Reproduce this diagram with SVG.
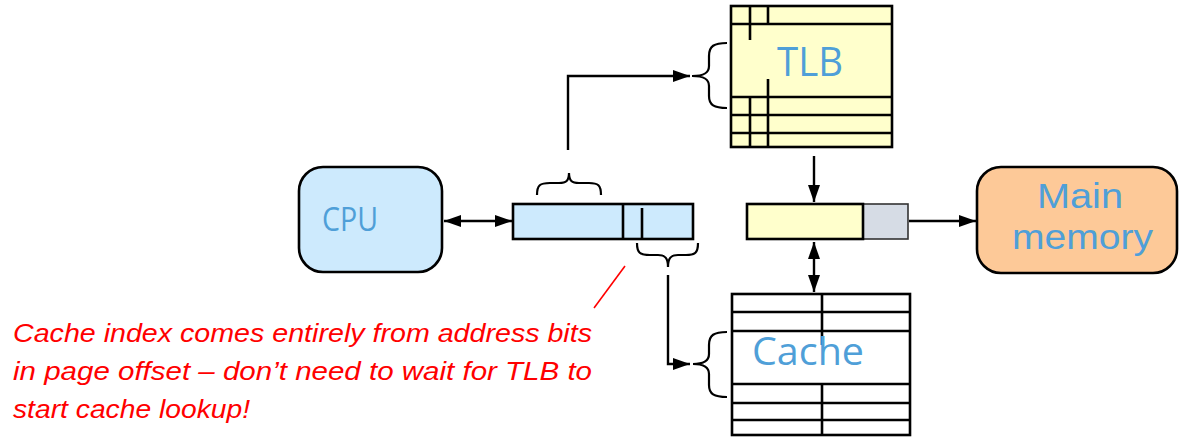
<svg xmlns="http://www.w3.org/2000/svg" width="1180" height="439" viewBox="0 0 1180 439">
  <style>
    .box { stroke: #000; stroke-width: 2.6; }
    .grid { stroke: #000; stroke-width: 2.6; fill: none; }
    .wire { stroke: #000; stroke-width: 2.4; fill: none; }
    .brace { stroke: #000; stroke-width: 2.2; fill: none; }
    .label { font-family: "Open Sans", "Liberation Sans", sans-serif; fill: #4f9fd8; }
    .mem { font-family: "Liberation Sans", Arial, sans-serif; fill: #4f9fd8; font-size: 35px; }
    .note { font-family: "Liberation Sans", Arial, sans-serif; font-style: italic; font-size: 26px; fill: #ff0000; }
  </style>
  <defs>
    <marker id="arrow" markerUnits="userSpaceOnUse" markerWidth="18" markerHeight="12" refX="17" refY="6" orient="auto-start-reverse">
      <path d="M0,0 L17,6 L0,12 z" fill="#000"/>
    </marker>
  </defs>
  <rect width="1180" height="439" fill="#fff"/>

  <!-- connectors -->
  <g id="connectors">
    <line class="wire" x1="444" y1="221" x2="512" y2="221" marker-start="url(#arrow)" marker-end="url(#arrow)"/>
    <polyline class="wire" points="568,150 568,76 690,76" marker-end="url(#arrow)"/>
    <polyline class="wire" points="668,275 668,364 690,364" marker-end="url(#arrow)"/>
    <line class="wire" x1="814" y1="156" x2="814" y2="202" marker-end="url(#arrow)"/>
    <line class="wire" x1="814" y1="242" x2="814" y2="292" marker-start="url(#arrow)" marker-end="url(#arrow)"/>
    <line class="wire" x1="909" y1="221" x2="976" y2="221" marker-end="url(#arrow)"/>
    <line x1="625" y1="266" x2="594" y2="308" stroke="#ff0000" stroke-width="1.6"/>
  </g>

  <!-- processor -->
  <g id="cpu">
    <rect class="box" x="299" y="167" width="143" height="105" rx="24" fill="#cdeafd"/>
    <text class="label" x="322" y="231" font-size="33" textLength="56" lengthAdjust="spacingAndGlyphs">CPU</text>
  </g>

  <!-- virtual address: page number | page offset -->
  <g id="virtual-address">
    <rect class="box" x="513" y="204" width="180" height="35" fill="#cdeafd"/>
    <line class="grid" x1="623" y1="204" x2="623" y2="239"/>
    <line class="grid" x1="642" y1="208" x2="642" y2="239"/>
    <path class="brace" d="M537,195 C537,185 540,183 550,183 L559,183 C566,183 569,181 569,173 C569,181 572,183 579,183 L589,183 C598,183 601,185 601,195"/>
    <path class="brace" d="M637,243 C637,253 640,255 650,255 L658,255 C665,255 668,258 668,267 C668,258 671,255 678,255 L686,255 C695,255 698,253 698,243"/>
  </g>

  <!-- translation lookaside buffer -->
  <g id="tlb">
    <rect class="box" x="731" y="6" width="161" height="141" fill="#ffffcc"/>
    <line class="grid" x1="731" y1="24" x2="892" y2="24"/>
    <line class="grid" x1="731" y1="97" x2="892" y2="97"/>
    <line class="grid" x1="731" y1="115" x2="892" y2="115"/>
    <line class="grid" x1="731" y1="133" x2="892" y2="133"/>
    <line class="grid" x1="750" y1="6" x2="750" y2="40"/>
    <line class="grid" x1="768" y1="6" x2="768" y2="24"/>
    <line class="grid" x1="750" y1="97" x2="750" y2="147"/>
    <line class="grid" x1="768" y1="79" x2="768" y2="147"/>
    <path class="brace" d="M727,43 C714,43 709,46 709,56 L709,66 C709,73 704,76 692,76 C704,76 709,79 709,86 L709,96 C709,105 714,108 727,108"/>
    <text class="label" x="777" y="76" font-size="40" textLength="66" lengthAdjust="spacingAndGlyphs">TLB</text>
  </g>

  <!-- physical address: frame number | offset -->
  <g id="physical-address">
    <rect x="863" y="204" width="45" height="35" fill="#d6dce5" stroke="#333" stroke-width="1.6"/>
    <rect class="box" x="747" y="204" width="116" height="35" fill="#ffffcc"/>
  </g>

  <!-- cache array -->
  <g id="cache">
    <rect class="box" x="732" y="294" width="178" height="141" fill="#fff"/>
    <line class="grid" x1="732" y1="312" x2="910" y2="312"/>
    <line class="grid" x1="732" y1="331" x2="910" y2="331"/>
    <line class="grid" x1="732" y1="384" x2="910" y2="384"/>
    <line class="grid" x1="732" y1="403" x2="910" y2="403"/>
    <line class="grid" x1="732" y1="420" x2="910" y2="420"/>
    <line class="grid" x1="822" y1="294" x2="822" y2="345"/>
    <line class="grid" x1="822" y1="384" x2="822" y2="435"/>
    <path class="brace" d="M727,332 C714,332 709,335 709,345 L709,354 C709,361 704,364 693,364 C704,364 709,367 709,374 L709,385 C709,394 714,397 727,397"/>
    <text class="label" x="752" y="365" font-size="39" textLength="112" lengthAdjust="spacingAndGlyphs">Cache</text>
  </g>

  <!-- main memory -->
  <g id="main-memory">
    <rect class="box" x="977" y="167" width="200" height="106" rx="24" fill="#fdc998"/>
    <text class="mem" x="1037" y="208" textLength="86" lengthAdjust="spacingAndGlyphs">Main</text>
    <text class="mem" x="1012" y="249" textLength="141" lengthAdjust="spacingAndGlyphs">memory</text>
  </g>

  <!-- annotation -->
  <g id="note">
    <text class="note" x="13" y="342" textLength="579" lengthAdjust="spacingAndGlyphs">Cache index comes entirely from address bits</text>
    <text class="note" x="13" y="380" textLength="579" lengthAdjust="spacingAndGlyphs">in page offset – don’t need to wait for TLB to</text>
    <text class="note" x="13" y="418" textLength="237" lengthAdjust="spacingAndGlyphs">start cache lookup!</text>
  </g>
</svg>
